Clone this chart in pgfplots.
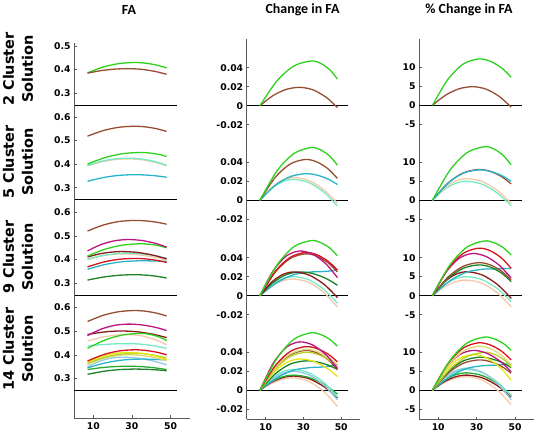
\documentclass[border=0pt]{standalone}
\usepackage{pgfplots}
\pgfplotsset{compat=1.18}
\usepackage{fontspec}
\newfontfamily\dvs{DejaVu Sans}
\newfontfamily\carl{Carlito}
\newcommand\tickf{\dvs\bfseries\fontsize{9.3}{11}\selectfont}
\definecolor{cgreen}{RGB}{45,210,30}
\definecolor{cbrown}{RGB}{150,78,50}
\definecolor{caqua}{RGB}{115,235,195}
\definecolor{ccyan}{RGB}{40,180,200}
\definecolor{cpeach}{RGB}{245,200,170}
\definecolor{cmagenta}{RGB}{190,20,130}
\definecolor{cmaroon}{RGB}{140,25,25}
\definecolor{cred}{RGB}{215,20,30}
\definecolor{cdkgreen}{RGB}{30,130,40}
\definecolor{cyellow}{RGB}{230,230,20}
\definecolor{cyelgreen}{RGB}{185,210,40}
\definecolor{ckhaki}{RGB}{225,215,120}
\definecolor{cltblue}{RGB}{150,200,225}
\definecolor{cmedgreen}{RGB}{40,170,50}
\newcommand\cvA[8]{\addplot[#1] coordinates {(7,#2)(13,#3)(19,#4)(25,#5)(33,#6)(41,#7)(48,#8)};}
\newcommand\cvB[8]{\addplot[#1] coordinates {(7,#2)(14,#3)(21,#4)(28,#5)(35,#6)(42,#7)(48,#8)};}
\newcommand\cvC[8]{\addplot[#1] coordinates {(7,#2)(15,#3)(23,#4)(31,#5)(37,#6)(43,#7)(48,#8)};}
\newcommand\cvD[8]{\addplot[#1] coordinates {(7,#2)(16,#3)(25,#4)(34,#5)(39,#6)(44,#7)(48,#8)};}
\pgfplotsset{
 panel/.style={scale only axis, clip=false, xmin=0, xmax=60,
   axis lines*=left, xtick=\empty,
   x axis line style={draw=none, -},
   scaled y ticks=false, scaled x ticks=false,
   y axis line style={draw=black!65, line width=0.7bp, -},
   tick align=inside, major tick length=2.5bp,
   tick style={black!65, line width=0.6bp},
   ticklabel style={font=\tickf},
   every axis plot/.append style={line width=1.3bp, smooth, mark=none}},
 bottomrow/.style={x axis line style={draw=black!65, line width=0.7bp, -},
   xtick={10,30,50}, xticklabels={10,30,50}, xticklabel style={yshift=-1bp}},
 sep/.style={black, line width=0.8bp, sharp plot},
 c1/.style={panel, width=115.8bp, ymin=0.25},
 c1t/.style={ytick={0.3,0.4,0.5,0.6}, yticklabels={0.3,0.4,0.5,0.6}},
 c2/.style={panel, width=113.4bp, ytick={-0.02,0,0.02,0.04}, yticklabels={-0.02,0,0.02,0.04}},
 c3/.style={panel, width=115.2bp, ytick={-5,0,5,10}, yticklabels={-5,0,5,10}},
}
\begin{document}
\begin{tikzpicture}[x=1bp,y=1bp]
\useasboundingbox (0,0) rectangle (537,437);
% titles
\node[font=\carl\bfseries\fontsize{14}{16}\selectfont] at (129,427.5) {FA};
\node[font=\carl\bfseries\fontsize{14}{16}\selectfont] at (302.5,427.5) {Change in FA};
\node[font=\carl\bfseries\fontsize{14}{16}\selectfont] at (469,427.5) {\% Change in FA};
% row labels
\node[rotate=90, align=center, font=\dvs\bfseries\fontsize{14.5}{19}\selectfont] at (18,368) {2 Cluster\\Solution};
\node[rotate=90, align=center, font=\dvs\bfseries\fontsize{14.5}{19}\selectfont] at (18,275) {5 Cluster\\Solution};
\node[rotate=90, align=center, font=\dvs\bfseries\fontsize{14.5}{19}\selectfont] at (18,180) {9 Cluster\\Solution};
\node[rotate=90, align=center, font=\dvs\bfseries\fontsize{14.5}{19}\selectfont] at (18,88) {14 Cluster\\Solution};

%%%%%%%%%%%%%%%% Column 1: FA
\begin{axis}[c1, at={(74bp,332bp)}, anchor=south west, height=62bp, ymax=0.5127,
  ytick={0.3,0.4,0.5}, yticklabels={0.3,0.4,0.5}]
\addplot[sep] coordinates {(0,0.25)(53.5,0.25)};
\cvC{cgreen}{0.386}{0.4105}{0.4251}{0.430}{0.4272}{0.4187}{0.407}
\cvB{cbrown}{0.385}{0.3956}{0.4019}{0.404}{0.4010}{0.3922}{0.380}
\end{axis}
\begin{axis}[c1, c1t, at={(74bp,237.5bp)}, anchor=south west, height=94.5bp, ymax=0.650]
\addplot[sep] coordinates {(0,0.25)(53.5,0.25)};
\cvB{cpeach}{0.392}{0.4087}{0.4187}{0.422}{0.4183}{0.4073}{0.392}
\cvC{cbrown}{0.518}{0.5414}{0.5553}{0.560}{0.5573}{0.5492}{0.538}
\cvB{caqua}{0.394}{0.4112}{0.4216}{0.425}{0.4213}{0.4103}{0.395}
\cvD{cgreen}{0.400}{0.4272}{0.4436}{0.449}{0.4469}{0.4407}{0.432}
\cvC{ccyan}{0.327}{0.3426}{0.3519}{0.355}{0.3536}{0.3496}{0.344}
\end{axis}
\begin{axis}[c1, c1t, at={(74bp,142bp)}, anchor=south west, height=95.5bp, ymax=0.6547]
\addplot[sep] coordinates {(0,0.25)(53.5,0.25)};
\cvA{cpeach}{0.400}{0.4133}{0.4213}{0.424}{0.4208}{0.4113}{0.398}
\cvB{caqua}{0.402}{0.4159}{0.4242}{0.427}{0.4243}{0.4162}{0.405}
\cvA{cmaroon}{0.411}{0.4238}{0.4314}{0.434}{0.4302}{0.4188}{0.403}
\cvD{cgreen}{0.415}{0.4439}{0.4612}{0.467}{0.4649}{0.4587}{0.450}
\cvB{cmagenta}{0.437}{0.4637}{0.4797}{0.485}{0.4811}{0.4693}{0.453}
\cvC{cbrown}{0.521}{0.5460}{0.5610}{0.566}{0.5640}{0.5582}{0.550}
\cvD{ccyan}{0.359}{0.3790}{0.3910}{0.395}{0.3946}{0.3935}{0.392}
\cvC{cred}{0.369}{0.3890}{0.4010}{0.405}{0.4029}{0.3967}{0.388}
\cvC{cdkgreen}{0.313}{0.3258}{0.3334}{0.336}{0.3343}{0.3291}{0.322}
\end{axis}
\begin{axis}[c1, c1t, bottomrow, at={(74bp,19bp)}, anchor=south west, height=123bp, ymin=0.1345, ymax=0.6513]
\addplot[sep] coordinates {(0,0.25)(53.5,0.25)};
\cvC{cbrown}{0.540}{0.5656}{0.5809}{0.586}{0.5832}{0.5747}{0.563}
\cvA{cmaroon}{0.485}{0.4933}{0.4984}{0.500}{0.4966}{0.4863}{0.472}
\cvB{cmagenta}{0.481}{0.5077}{0.5237}{0.529}{0.5257}{0.5158}{0.502}
\cvB{cpeach}{0.458}{0.4730}{0.4820}{0.485}{0.4797}{0.4639}{0.442}
\cvB{caqua}{0.437}{0.4426}{0.4459}{0.447}{0.4445}{0.4372}{0.427}
\cvD{cgreen}{0.427}{0.4620}{0.4830}{0.490}{0.4863}{0.4753}{0.460}
\cvA{cltblue}{0.350}{0.3722}{0.3856}{0.390}{0.3861}{0.3743}{0.358}
\cvD{ccyan}{0.345}{0.3656}{0.3779}{0.382}{0.3815}{0.3800}{0.378}
\cvB{ckhaki}{0.360}{0.3822}{0.3956}{0.400}{0.3969}{0.3878}{0.375}
\cvC{cyelgreen}{0.364}{0.3874}{0.4013}{0.406}{0.4035}{0.3962}{0.386}
\cvB{cyellow}{0.369}{0.3918}{0.4054}{0.410}{0.4063}{0.3953}{0.380}
\cvC{cred}{0.374}{0.4001}{0.4158}{0.421}{0.4184}{0.4107}{0.400}
\cvB{cmedgreen}{0.338}{0.3458}{0.3504}{0.352}{0.3503}{0.3451}{0.338}
\cvC{cdkgreen}{0.318}{0.3302}{0.3376}{0.340}{0.3391}{0.3366}{0.333}
\end{axis}

%%%%%%%%%%%%%%%% Column 2: Change in FA
\begin{axis}[c2, at={(246.7bp,297.1bp)}, anchor=south west, height=101.2bp, ymin=-0.036, ymax=0.0705]
\addplot[sep] coordinates {(0,0)(53.5,0)};
\cvB{cbrown}{0}{0.0107}{0.0172}{0.0193}{0.0167}{0.0089}{-0.002}
\cvD{cgreen}{0}{0.0261}{0.0418}{0.047}{0.0447}{0.0377}{0.028}
\end{axis}
\begin{axis}[c2, at={(246.7bp,202.5bp)}, anchor=south west, height=94.6bp, ymin=-0.036, ymax=0.0636]
\addplot[sep] coordinates {(0,0)(53.5,0)};
\cvA{caqua}{0}{0.0122}{0.0196}{0.022}{0.0186}{0.0083}{-0.006}
\cvA{cpeach}{0}{0.0133}{0.0213}{0.024}{0.0207}{0.0108}{-0.003}
\cvC{ccyan}{0}{0.0156}{0.0249}{0.028}{0.0266}{0.0224}{0.0166}
\cvC{cbrown}{0}{0.0239}{0.0382}{0.043}{0.0405}{0.0332}{0.023}
\cvD{cgreen}{0}{0.0309}{0.0493}{0.0555}{0.0532}{0.0464}{0.037}
\end{axis}
\begin{axis}[c2, at={(246.7bp,107.1bp)}, anchor=south west, height=95.4bp, ymin=-0.036, ymax=0.0644]
\addplot[sep] coordinates {(0,0)(53.5,0)};
\cvA{cpeach}{0}{0.0097}{0.0156}{0.0175}{0.0139}{0.0030}{-0.012}
\cvA{caqua}{0}{0.0111}{0.0178}{0.020}{0.0166}{0.0063}{-0.008}
\cvD{ccyan}{0}{0.0139}{0.0222}{0.025}{0.0252}{0.0260}{0.027}
\cvB{cdkgreen}{0}{0.0139}{0.0222}{0.025}{0.0233}{0.0181}{0.011}
\cvA{cmaroon}{0}{0.0139}{0.0222}{0.025}{0.0217}{0.0118}{-0.002}
\cvC{cbrown}{0}{0.0245}{0.0391}{0.044}{0.0417}{0.0347}{0.025}
\cvC{cred}{0}{0.0253}{0.0404}{0.0455}{0.0432}{0.0364}{0.027}
\cvB{cmagenta}{0}{0.0261}{0.0418}{0.047}{0.0436}{0.0333}{0.019}
\cvD{cgreen}{0}{0.0322}{0.0516}{0.058}{0.0560}{0.0502}{0.042}
\end{axis}
\begin{axis}[c2, bottomrow, at={(246.7bp,17.7bp)}, anchor=south west, height=89.4bp, ymin=-0.0305, ymax=0.0636]
\addplot[sep] coordinates {(0,0)(53.5,0)};
\cvA{cpeach}{0}{0.0072}{0.0116}{0.013}{0.0093}{-0.0017}{-0.017}
\cvA{cmaroon}{0}{0.0083}{0.0133}{0.015}{0.0122}{0.0037}{-0.008}
\cvA{cmedgreen}{0}{0.0089}{0.0142}{0.016}{0.0135}{0.0062}{-0.004}
\cvA{caqua}{0}{0.0122}{0.0196}{0.022}{0.0184}{0.0078}{-0.007}
\cvA{cltblue}{0}{0.0111}{0.0178}{0.020}{0.0163}{0.0053}{-0.010}
\cvD{ccyan}{0}{0.0133}{0.0213}{0.024}{0.0244}{0.0255}{0.027}
\cvC{cdkgreen}{0}{0.0172}{0.0276}{0.031}{0.0299}{0.0266}{0.022}
\cvB{cyellow}{0}{0.0183}{0.0293}{0.033}{0.0307}{0.0239}{0.0145}
\cvC{cbrown}{0}{0.0234}{0.0373}{0.042}{0.0395}{0.0322}{0.022}
\cvC{cyelgreen}{0}{0.0222}{0.0356}{0.040}{0.0382}{0.0327}{0.025}
\cvC{ckhaki}{0}{0.0239}{0.0382}{0.043}{0.0410}{0.0352}{0.027}
\cvC{cred}{0}{0.0256}{0.0409}{0.046}{0.0440}{0.0382}{0.030}
\cvB{cmagenta}{0}{0.0284}{0.0453}{0.051}{0.0476}{0.0373}{0.023}
\cvD{cgreen}{0}{0.0336}{0.0538}{0.0605}{0.0588}{0.0536}{0.0464}
\end{axis}

%%%%%%%%%%%%%%%% Column 3: % Change in FA
\begin{axis}[c3, at={(419bp,297.5bp)}, anchor=south west, height=100.5bp, ymin=-9, ymax=17.45]
\addplot[sep] coordinates {(0,0)(53.5,0)};
\cvB{cbrown}{0}{2.72}{4.36}{4.9}{4.24}{2.25}{-0.5}
\cvC{cgreen}{0}{6.78}{10.85}{12.2}{11.61}{9.85}{7.4}
\end{axis}
\begin{axis}[c3, at={(419bp,202.5bp)}, anchor=south west, height=95bp, ymin=-9, ymax=16]
\addplot[sep] coordinates {(0,0)(53.5,0)};
\cvA{caqua}{0}{2.78}{4.45}{5.0}{4.20}{1.82}{-1.5}
\cvA{cpeach}{0}{3.17}{5.07}{5.7}{4.90}{2.52}{-0.8}
\cvC{cbrown}{0}{4.50}{7.20}{8.1}{7.63}{6.24}{4.3}
\cvC{ccyan}{0}{4.45}{7.11}{8.0}{7.63}{6.53}{5.0}
\cvD{cgreen}{0}{7.84}{12.53}{14.1}{13.51}{11.75}{9.3}
\end{axis}
\begin{axis}[c3, at={(419bp,107.1bp)}, anchor=south west, height=95.4bp, ymin=-9, ymax=16.1]
\addplot[sep] coordinates {(0,0)(53.5,0)};
\cvA{cpeach}{0}{2.28}{3.64}{4.1}{3.24}{0.67}{-2.9}
\cvA{caqua}{0}{2.78}{4.45}{5.0}{4.19}{1.77}{-1.6}
\cvA{cmaroon}{0}{3.50}{5.60}{6.3}{5.44}{2.87}{-0.7}
\cvD{ccyan}{0}{3.89}{6.22}{7.0}{7.02}{7.10}{7.2}
\cvC{cdkgreen}{0}{4.50}{7.20}{8.1}{7.56}{5.94}{3.7}
\cvC{cbrown}{0}{4.84}{7.73}{8.7}{8.13}{6.45}{4.1}
\cvB{cmagenta}{0}{6.17}{9.87}{11.1}{10.30}{7.92}{4.6}
\cvC{cred}{0}{6.95}{11.11}{12.5}{11.85}{9.90}{7.2}
\cvD{cgreen}{0}{8.01}{12.80}{14.4}{13.94}{12.59}{10.7}
\end{axis}
\begin{axis}[c3, bottomrow, at={(419bp,17.7bp)}, anchor=south west, height=89.4bp, ymin=-7.63, ymax=15.9]
\addplot[sep] coordinates {(0,0)(53.5,0)};
\cvA{cpeach}{0}{2.00}{3.20}{3.6}{2.69}{-0.03}{-3.8}
\cvA{cmaroon}{0}{2.22}{3.56}{4.0}{3.29}{1.16}{-1.8}
\cvA{cmedgreen}{0}{2.56}{4.09}{4.6}{3.87}{1.71}{-1.3}
\cvA{caqua}{0}{3.06}{4.89}{5.5}{4.64}{2.07}{-1.5}
\cvA{cltblue}{0}{3.22}{5.16}{5.8}{4.78}{1.73}{-2.5}
\cvD{ccyan}{0}{3.61}{5.78}{6.5}{6.57}{6.79}{7.1}
\cvC{cbrown}{0}{4.45}{7.11}{8.0}{7.57}{6.29}{4.5}
\cvC{cdkgreen}{0}{4.84}{7.73}{8.7}{8.37}{7.38}{6.0}
\cvB{cyellow}{0}{5.23}{8.36}{9.4}{8.58}{6.12}{2.7}
\cvD{cyelgreen}{0}{5.56}{8.89}{10.0}{9.53}{8.14}{6.2}
\cvB{cmagenta}{0}{5.84}{9.33}{10.5}{9.81}{7.76}{4.9}
\cvC{ckhaki}{0}{6.45}{10.31}{11.6}{11.00}{9.20}{6.7}
\cvC{cred}{0}{6.95}{11.11}{12.5}{11.95}{10.30}{8.0}
\cvD{cgreen}{0}{7.78}{12.45}{14.0}{13.57}{12.29}{10.5}
\end{axis}
\end{tikzpicture}
\end{document}
